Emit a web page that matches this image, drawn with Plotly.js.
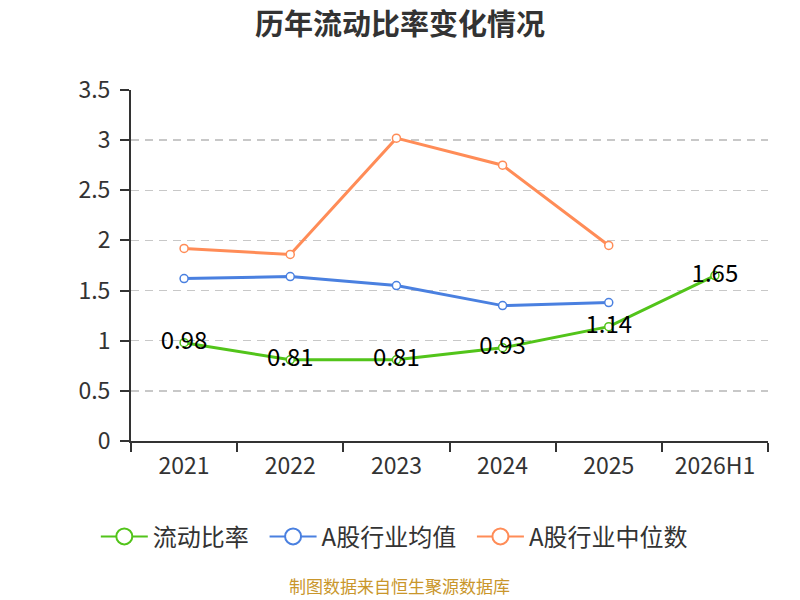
<!DOCTYPE html>
<html>
<head>
<meta charset="utf-8">
<script src="https://cdn.plot.ly/plotly-3.0.1.min.js"></script>
<style>
  html, body { margin: 0; padding: 0; background: #fff; }
  #chart { width: 800px; height: 600px; }
</style>
</head>
<body>
<div id="chart"></div>
<script>
const years = ["2021", "2022", "2023", "2024", "2025", "2026H1"];
const currentRatio = [0.98, 0.81, 0.81, 0.93, 1.14, 1.65];
const industryMean = [1.62, 1.64, 1.55, 1.35, 1.38];
const industryMedian = [1.92, 1.86, 3.02, 2.75, 1.95];
const yTicks = [0, 0.5, 1, 1.5, 2, 2.5, 3, 3.5];

const font = "'Noto Sans CJK SC', 'Noto Sans', sans-serif";

function series(name, x, y, color, withText) {
  let t = {
    x: x,
    y: y,
    name: name,
    type: "scatter",
    mode: withText ? "lines+markers+text" : "lines+markers",
    line: { color: color, width: 3 },
    marker: { symbol: "circle", size: 8, color: "#ffffff", line: { color: color, width: 1.5 } },
    showlegend: false,
    hoverinfo: "skip"
  };
  if (withText) {
    t.text = y.map(v => v.toFixed(2));
    t.textposition = "middle center";
    t.textfont = { family: font, size: 24, color: "#000000" };
  }
  return t;
}

// legend-only entries, so the legend symbols can be bigger than the marks
function legendEntry(name, color) {
  return {
    x: [null],
    y: [null],
    name: name + "  ",
    type: "scatter",
    mode: "lines+markers",
    line: { color: color, width: 2 },
    marker: { symbol: "circle", size: 16, color: "#ffffff", line: { color: color, width: 2 } },
    showlegend: true,
    hoverinfo: "skip"
  };
}

const data = [
  series("流动比率", years, currentRatio, "#52c41a", true),
  series("A股行业均值", years.slice(0, 5), industryMean, "#4a80e0", false),
  series("A股行业中位数", years.slice(0, 5), industryMedian, "#ff8c57", false),
  legendEntry("流动比率", "#52c41a"),
  legendEntry("A股行业均值", "#4a80e0"),
  legendEntry("A股行业中位数", "#ff8c57")
];

const layout = {
  width: 800,
  height: 600,
  paper_bgcolor: "#ffffff",
  plot_bgcolor: "#ffffff",
  margin: { l: 131, r: 32, t: 90, b: 159, autoexpand: false },
  font: { family: font, color: "#333333" },
  title: {
    text: "<b>历年流动比率变化情况</b>",
    font: { family: font, size: 29, color: "#333333" },
    x: 0.5,
    xref: "container",
    y: 0.958,
    yref: "container",
    yanchor: "middle"
  },
  xaxis: {
    type: "category",
    categoryorder: "array",
    categoryarray: years,
    range: [-0.5, 5.5],
    tickson: "boundaries",
    tickangle: 0,
    automargin: false,
    ticks: "outside",
    ticklen: 9,
    tickcolor: "#333333",
    tickwidth: 2,
    ticklabelstandoff: 3,
    showline: true,
    linecolor: "#333333",
    linewidth: 2,
    showgrid: false,
    zeroline: false,
    tickfont: { family: font, size: 23, color: "#333333" },
    fixedrange: true
  },
  yaxis: {
    range: [0, 3.5],
    tickvals: yTicks,
    ticktext: yTicks.map(String),
    automargin: false,
    ticks: "outside",
    ticklen: 9,
    tickcolor: "#333333",
    tickwidth: 2,
    ticklabelstandoff: 5,
    showline: true,
    linecolor: "#333333",
    linewidth: 2,
    showgrid: true,
    gridcolor: "#c8c8c8",
    griddash: "8px,6px",
    gridwidth: 1.5,
    zeroline: false,
    tickfont: { family: font, size: 23, color: "#333333" },
    fixedrange: true
  },
  showlegend: true,
  legend: {
    orientation: "h",
    x: 0.422,
    xanchor: "center",
    y: -0.273,
    yanchor: "middle",
    itemwidth: 47,
    font: { family: font, size: 24, color: "#333333" },
    itemclick: false,
    itemdoubleclick: false
  },
  annotations: [
    {
      text: "制图数据来自恒生聚源数据库",
      xref: "paper",
      yref: "paper",
      x: 0.422,
      y: -0.413,
      xanchor: "center",
      yanchor: "middle",
      showarrow: false,
      font: { family: font, size: 17, color: "#c9962b" }
    }
  ]
};

Plotly.newPlot("chart", data, layout, { displayModeBar: false, staticPlot: true });
</script>
</body>
</html>
